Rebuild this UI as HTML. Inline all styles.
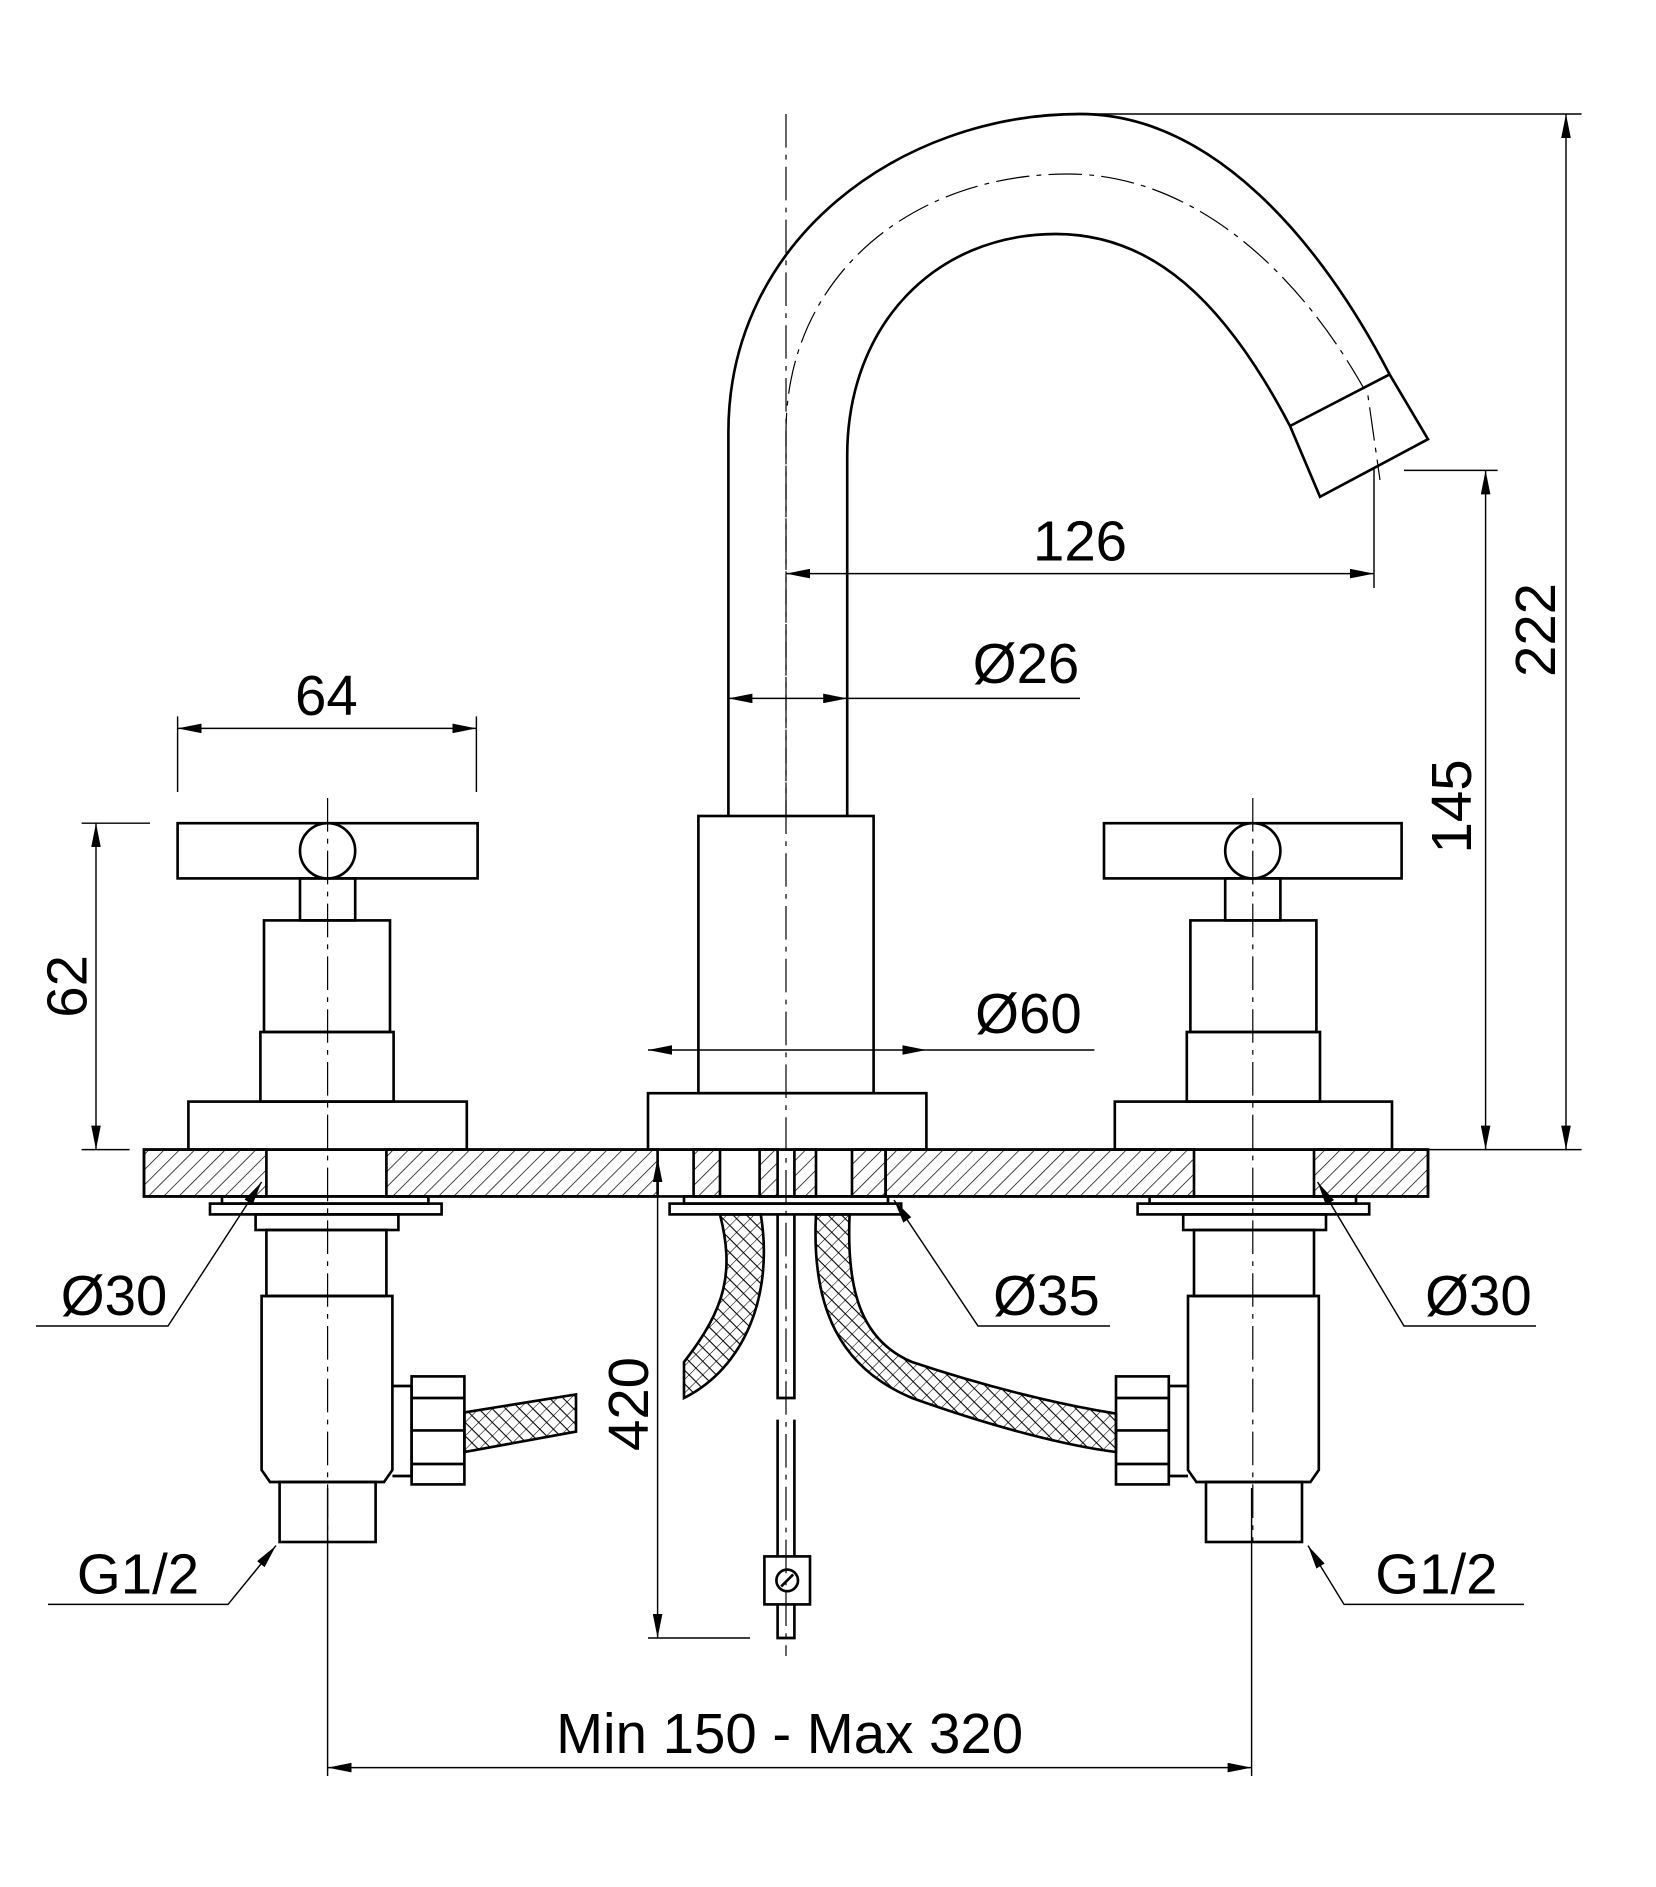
<!DOCTYPE html>
<html><head><meta charset="utf-8"><style>
html,body{margin:0;padding:0;background:#fff}
svg{display:block}
text{font-family:"Liberation Sans",sans-serif;font-size:47px;fill:#000}
</style></head><body>
<svg width="1656" height="1887" viewBox="0 0 1380 1572.5" xmlns="http://www.w3.org/2000/svg">
<defs>
<pattern id="h" width="9" height="9" patternUnits="userSpaceOnUse" patternTransform="rotate(45)">
<line x1="0" y1="0" x2="0" y2="9" stroke="#000" stroke-width="1.2"/></pattern>
<pattern id="x" width="8" height="8" patternUnits="userSpaceOnUse" patternTransform="rotate(45)">
<path d="M0 0V8M0 4H8" stroke="#000" stroke-width="0.9"/></pattern>
<marker id="a" viewBox="0 0 20 8" refX="20" refY="4" markerWidth="20" markerHeight="8" orient="auto-start-reverse" markerUnits="userSpaceOnUse">
<path d="M0 0L20 4L0 8z" fill="#000"/></marker>
</defs>
<g fill="none" stroke="#000" stroke-width="2.2">
<path d="M120 958H222V997H120Z M322 958H548V997H322Z M738 958H995V997H738Z M1095 958H1190V997H1095Z" fill="url(#h)"/>
<path d="M578 958H600V997H578Z M633 958H648V997H633Z M662 958H680V997H662Z M710 958H738V997H710Z" fill="url(#h)"/>
<path d="M120 958H1190V997H120Z"/>
<rect x="148" y="686" width="250" height="46" fill="#fff"/>
<circle cx="273" cy="709" r="23" fill="#fff"/>
<rect x="250" y="732" width="46" height="35"/>
<rect x="220" y="767" width="105" height="93"/>
<rect x="217" y="860" width="111" height="58"/>
<rect x="157" y="918" width="232" height="40"/>
<rect x="920" y="686" width="248" height="46" fill="#fff"/>
<circle cx="1044" cy="709" r="23" fill="#fff"/>
<rect x="1021" y="732" width="46" height="35"/>
<rect x="992" y="767" width="105" height="93"/>
<rect x="989" y="860" width="111" height="58"/>
<rect x="929" y="918" width="231" height="40"/>
<rect x="540" y="911" width="232" height="47"/>
<rect x="582" y="680" width="146" height="231"/>
<path d="M607 680V360C607 200 750 95 900 95C1010 95 1100 200 1158 312L1190 366L1100 414L1075 355C1020 250 960 195 880 195C780 195 706 270 706 380V680"/>
<path d="M1075 355L1158 312"/>
<rect x="175" y="1003" width="193" height="9"/>
<rect x="185" y="997" width="172" height="6"/>
<rect x="213" y="1012" width="119" height="13"/>
<rect x="222" y="1025" width="100" height="55"/>
<path d="M218 1080H327V1225L320 1235H225L218 1225Z"/>
<rect x="233" y="1235" width="80" height="50"/>
<path d="M327 1155H343V1230H327"/>
<rect x="343" y="1147" width="44" height="90"/>
<path d="M343 1165H387M343 1192H387M343 1220H387"/>
<path d="M387 1177L480 1162V1193L387 1210Z" fill="url(#x)"/>
<rect x="948" y="1003" width="193" height="9"/>
<rect x="958" y="997" width="172" height="6"/>
<rect x="986" y="1012" width="119" height="13"/>
<rect x="995" y="1025" width="100" height="55"/>
<path d="M990 1080H1099V1225L1092 1235H997L990 1225Z"/>
<rect x="1005" y="1235" width="80" height="50"/>
<path d="M990 1155H974V1230H990"/>
<rect x="930" y="1147" width="44" height="90"/>
<path d="M930 1165H974M930 1192H974M930 1220H974"/>
<path d="M930 1178C880 1170 820 1155 760 1135C720 1118 705 1080 708 1012H680C676 1090 700 1140 760 1165C830 1190 890 1205 930 1210Z" fill="url(#x)"/>
<rect x="558" y="1003" width="193" height="9"/>
<rect x="570" y="997" width="170" height="6"/>
<path d="M600 1012C612 1060 605 1090 570 1135V1165C620 1140 645 1080 634 1012Z" fill="url(#x)"/>
<path d="M648 1012V1165H662V1012M648 1183V1297M662 1183V1297M648 1337V1365H662V1337"/>
<rect x="637" y="1297" width="38" height="40"/>
<circle cx="656" cy="1317" r="9"/>
<path d="M651 1322L661 1312"/>
</g>
<g fill="none" stroke="#000" stroke-width="1" stroke-dasharray="28 6 4 6">
<path d="M655 95V1380"/>
<path d="M655 680V360C655 230 760 145 890 145C990 145 1080 220 1140 330L1150 400"/>
<path d="M273 665V1285M1044 665V1285"/>
</g>
<g fill="none" stroke="#000" stroke-width="1.2">
<path d="M1145 390V490M900 95H1318M1190 958H1318M1170 392H1248M68 686H125M68 958H108M148 597V660M397 597V660M273 1240V1480M1043 1240V1480M540 1365H625"/>
<path d="M655 478H1145" marker-start="url(#a)" marker-end="url(#a)"/>
<path d="M607 582H706" marker-start="url(#a)" marker-end="url(#a)"/><path d="M706 582H900"/>
<path d="M148 607H397" marker-start="url(#a)" marker-end="url(#a)"/>
<path d="M80 686V958" marker-start="url(#a)" marker-end="url(#a)"/>
<path d="M1238 392V958" marker-start="url(#a)" marker-end="url(#a)"/>
<path d="M1305 95V958" marker-start="url(#a)" marker-end="url(#a)"/>
<path d="M540 875H772" marker-start="url(#a)" marker-end="url(#a)"/><path d="M772 875H912"/>
<path d="M548 965V1365" marker-start="url(#a)" marker-end="url(#a)"/>
<path d="M273 1473H1043" marker-start="url(#a)" marker-end="url(#a)"/>
<path d="M30 1105H140L218 985" marker-end="url(#a)"/>
<path d="M1280 1105H1170L1098 985" marker-end="url(#a)"/>
<path d="M925 1105H815L745 1000" marker-end="url(#a)"/>
<path d="M40 1337H190L230 1288" marker-end="url(#a)"/>
<path d="M1270 1337H1120L1090 1288" marker-end="url(#a)"/>
</g>
<text x="900" y="467" text-anchor="middle">126</text>
<text x="855" y="569" text-anchor="middle">Ø26</text>
<text x="272" y="596" text-anchor="middle">64</text>
<text x="857" y="861" text-anchor="middle">Ø60</text>
<text transform="translate(72 822) rotate(-90)" text-anchor="middle">62</text>
<text transform="translate(1226 672) rotate(-90)" text-anchor="middle">145</text>
<text transform="translate(1296 525) rotate(-90)" text-anchor="middle">222</text>
<text transform="translate(540 1170) rotate(-90)" text-anchor="middle">420</text>
<text x="95" y="1096" text-anchor="middle">Ø30</text>
<text x="1232" y="1096" text-anchor="middle">Ø30</text>
<text x="872" y="1096" text-anchor="middle">Ø35</text>
<text x="115" y="1328" text-anchor="middle">G1/2</text>
<text x="1197" y="1328" text-anchor="middle">G1/2</text>
<text x="658" y="1461" text-anchor="middle">Min 150 - Max 320</text>
</svg>
</body></html>
